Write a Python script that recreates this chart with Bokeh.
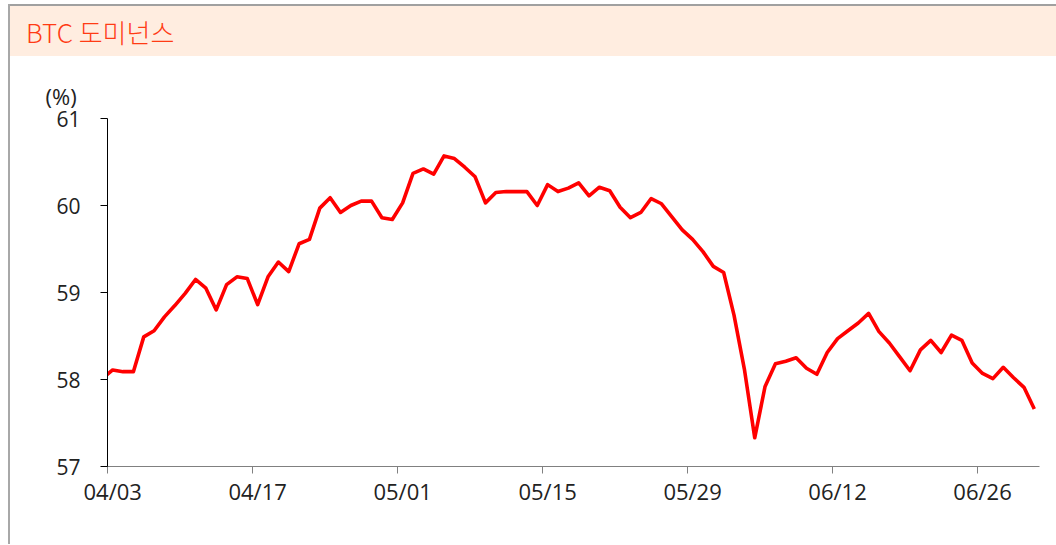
from bokeh.plotting import figure
from bokeh.models import FixedTicker, Range1d, ColumnDataSource, Div, Title
from bokeh.layouts import row, column
from bokeh.embed import file_html
from bokeh.resources import INLINE
import pandas as pd

# daily dates from 04/02 (clipped lead-in) to 07/01
dates = [d.strftime("%m/%d") for d in pd.date_range("2024-04-02", "2024-07-01", freq="D")]

dominance = [
    58.01,                                                  # 04/02 (lead-in, clipped)
    58.11, 58.09, 58.09, 58.49, 58.56, 58.72, 58.85, 58.99, 59.15, 59.05,   # 04/03-04/12
    58.80, 59.09, 59.18, 59.16, 58.86, 59.18, 59.35, 59.24, 59.56, 59.61,   # 04/13-04/22
    59.97, 60.09, 59.92, 60.00, 60.05, 60.05, 59.86, 59.84, 60.03, 60.37,   # 04/23-05/02
    60.42, 60.36, 60.57, 60.54, 60.44, 60.33, 60.03, 60.15, 60.16, 60.16,   # 05/03-05/12
    60.16, 60.00, 60.24, 60.16, 60.20, 60.26, 60.11, 60.21, 60.17, 59.98,   # 05/13-05/22
    59.86, 59.92, 60.08, 60.02, 59.87, 59.72, 59.61, 59.47, 59.30, 59.23,   # 05/23-06/01
    58.74, 58.12, 57.33, 57.92, 58.18, 58.21, 58.25, 58.13, 58.06, 58.31,   # 06/02-06/11
    58.47, 58.56, 58.65, 58.76, 58.55, 58.42, 58.26, 58.10, 58.34, 58.45,   # 06/12-06/21
    58.31, 58.51, 58.45, 58.19, 58.07, 58.01, 58.14, 58.02, 57.91, 57.66,   # 06/22-07/01
]

tick_labels = ["04/03", "04/17", "05/01", "05/15", "05/29", "06/12", "06/26"]
y_ticks = [57, 58, 59, 60, 61]
title_text = "BTC 도미넌스"
unit_text = "(%)"

idx = [i - 1 for i in range(len(dates))]  # 04/03 -> 0
src = ColumnDataSource(dict(x=idx, y=dominance, d=dates))
tick_pos = [dates.index(t) - 1 for t in tick_labels]

FONT = "Open Sans"

p = figure(width=1046, height=488, output_backend="svg", toolbar_location=None,
           x_range=Range1d(-0.5, 89.5), y_range=Range1d(57, 61), margin=0)
p.min_border_left = 97
p.min_border_right = 17
p.min_border_top = 62
p.min_border_bottom = 78
p.outline_line_color = None
p.xgrid.visible = False
p.ygrid.visible = False
p.background_fill_color = "white"
p.border_fill_color = "white"

p.line("x", "y", source=src, line_color="#FF0000", line_width=3.6, line_join="round")

xa = p.xaxis[0]
xa.ticker = FixedTicker(ticks=tick_pos, minor_ticks=[t - 0.5 for t in tick_pos])
xa.major_label_overrides = {t: l for t, l in zip(tick_pos, tick_labels)}
xa.major_tick_out = 0
xa.major_tick_in = 0
xa.minor_tick_out = 7
xa.minor_tick_in = 0
xa.minor_tick_line_color = "#808080"
xa.axis_line_color = "#808080"
xa.major_label_standoff = 2
xa.major_label_text_font = FONT
xa.major_label_text_font_size = "22px"
xa.major_label_text_color = "#222222"

ya = p.yaxis[0]
ya.ticker = FixedTicker(ticks=y_ticks)
ya.minor_tick_line_color = None
ya.major_tick_out = 7
ya.major_tick_in = 0
ya.axis_line_color = "#000000"
ya.major_tick_line_color = "#000000"
ya.major_label_standoff = 20
ya.major_label_text_font = FONT
ya.major_label_text_font_size = "21px"
ya.major_label_text_color = "#222222"

unit_title = Title(text=unit_text, align="left", offset=-62, standoff=16,
                   text_font=FONT, text_font_size="22px", text_font_style="normal",
                   text_color="#222222")
p.add_layout(unit_title, "above")

band = Div(width=1046, height=52, margin=0,
           text=('<div style="box-sizing:border-box;width:1046px;height:52px;overflow:hidden;'
                 'background:#FFEDE0;border-top:2px solid #A0A0A0;padding-left:16px;'
                 'font-family:\'Noto Sans CJK KR\';font-size:26px;font-weight:300;line-height:52px;'
                 'color:#FF3B14;white-space:nowrap;">' + title_text + '</div>'))
left_rule = Div(width=2, height=540, margin=0,
                text='<div style="width:2px;height:540px;background:#A8A8A8;"></div>')

layout = row(left_rule, column(band, p, spacing=0, margin=0), spacing=0, margin=(4, 0, 0, 8))

open("out.html", "w").write(file_html(layout, INLINE))
